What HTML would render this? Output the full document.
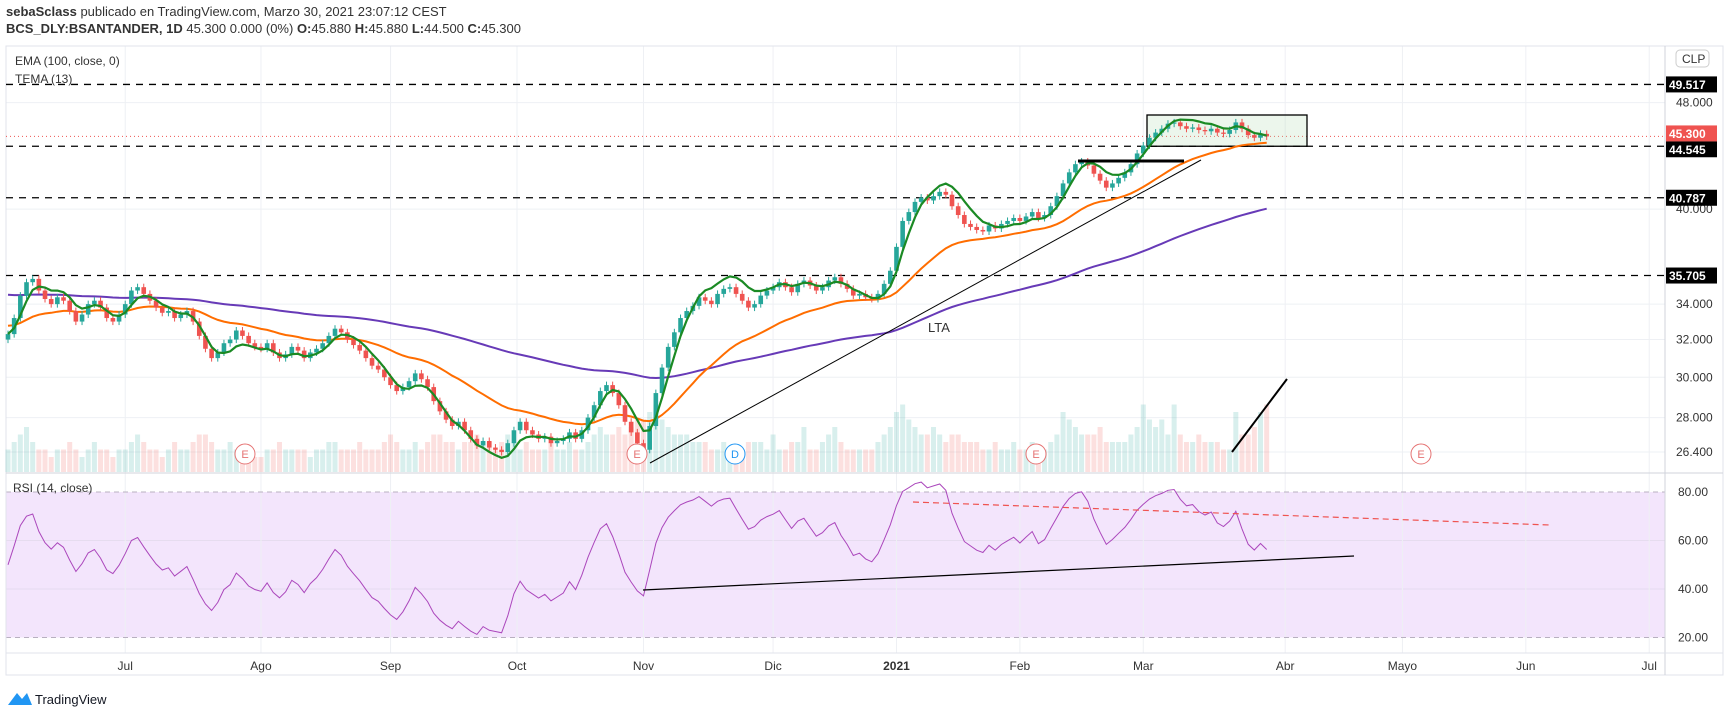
<!DOCTYPE html>
<html><head><meta charset="utf-8"><style>
body{margin:0;background:#fff;width:1729px;height:718px;overflow:hidden;font-family:"Liberation Sans",sans-serif}
svg text{font-family:"Liberation Sans",sans-serif}
</style></head><body>
<svg id="c" width="1729" height="718" xmlns="http://www.w3.org/2000/svg"></svg>
<script>
const closes=[32.3,33.2,34.5,35.3,35.5,34.8,34.3,34.0,34.4,34.2,33.6,33.0,33.4,34.0,34.2,33.8,33.2,33.0,33.4,
34.0,34.8,35.0,34.6,34.2,33.8,33.5,33.6,33.2,33.4,33.6,33.0,32.2,31.5,31.0,31.3,31.8,32.0,32.5,32.2,31.8,31.6,
31.5,31.8,31.3,31.0,31.2,31.6,31.4,31.0,31.3,31.5,31.8,32.2,32.6,32.4,32.0,31.7,31.4,31.0,30.6,30.4,30.0,
29.6,29.3,29.5,29.8,30.2,29.9,29.5,28.8,28.3,27.9,27.6,27.8,27.4,27.0,26.7,26.9,26.6,26.5,26.4,26.8,27.4,
27.8,27.4,27.2,27.0,27.1,26.8,26.9,27.0,27.3,27.0,27.4,28.0,28.6,29.3,29.6,29.2,28.6,27.8,27.3,26.8,26.5,
27.6,29.2,30.5,31.6,32.4,33.2,33.6,33.9,34.4,34.2,34.0,34.6,34.9,35.0,34.6,34.2,33.8,34.0,34.5,34.8,
35.0,35.3,35.0,34.7,35.2,35.4,35.1,34.8,35.0,35.4,35.6,35.2,34.9,34.5,34.6,34.4,34.3,34.6,35.2,36.0,
37.5,39.2,39.8,40.5,40.8,40.6,40.9,41.2,41.0,40.2,39.6,39.0,38.8,38.6,38.5,38.9,38.7,39.0,39.2,39.4,
39.2,39.5,39.8,39.4,39.6,40.2,40.9,41.8,42.6,43.2,43.4,43.1,42.5,42.0,41.5,41.8,42.2,42.6,43.2,44.0,
44.6,45.2,45.6,45.9,46.3,46.4,46.1,45.9,46.0,45.8,45.7,45.9,45.6,45.5,45.8,46.4,45.9,45.4,45.2,45.5,45.3];
const volumes=[3,4,5,6,4,3,3,2,3,3,4,3,2,3,4,3,3,2,3,
3,4,5,4,3,3,2,3,4,3,3,4,5,5,4,3,3,4,3,3,3,2,
2,3,3,4,3,3,3,3,2,3,3,4,4,3,3,3,4,3,3,3,4,
5,4,3,3,4,3,4,5,5,4,4,3,4,4,5,4,4,3,4,5,4,
3,4,3,3,3,4,3,3,4,3,3,4,5,6,5,5,6,5,6,7,7,
8,9,7,6,5,5,5,4,4,4,3,3,4,3,3,3,4,4,4,3,
5,3,3,4,4,6,3,3,4,5,6,4,3,3,3,3,3,4,5,6,
8,9,7,6,5,5,6,5,4,5,5,4,4,4,3,3,4,3,3,4,
3,3,4,3,3,4,5,8,7,6,5,5,5,6,4,4,4,4,5,6,
9,7,6,7,5,9,5,4,4,5,4,4,4,3,3,8,5,5,6,8,9];
const priceTicks=[48,40,34,32,30,28,26.4];
const levels=[49.517,44.545,40.787,35.705];
const rsiTicks=[80,60,40,20];
const months=["Jul","Ago","Sep","Oct","Nov","Dic","2021","Feb","Mar","Abr","Mayo","Jun","Jul"];
const monthIdx=[19,41,62,82.5,103,124,144,164,184,207,226,246,266];

const S=document.getElementById('c');const NS='http://www.w3.org/2000/svg';
function el(t,a,p){const e=document.createElementNS(NS,t);for(const k in a)e.setAttribute(k,a[k]);(p||S).appendChild(e);return e;}
const xa=i=>8+i*6.17;
const yp=p=>102.6+(Math.log(48)-Math.log(p))*584.4;
const yr=v=>492+(80-v)*145.5/60;
const yv=v=>472-v*7.5;
const R=1665;

// RSI bg
let e=el('rect',{x:6,y:492,width:R-6,height:145.5,fill:'#f3e5fc'});

// grid
priceTicks.forEach(p=>el('line',{x1:6,x2:R,y1:yp(p),y2:yp(p),stroke:'#eef0f4'}));
[60,40].forEach(v=>el('line',{x1:6,x2:R,y1:yr(v),y2:yr(v),stroke:'#e6dcef'}));
monthIdx.forEach(i=>{el('line',{x1:xa(i),x2:xa(i),y1:46,y2:653,stroke:'#eef0f4'});});
[80,20].forEach(v=>el('line',{x1:6,x2:R,y1:yr(v),y2:yr(v),stroke:'#b8b0c0','stroke-dasharray':'5,4'}));
// frames
el('rect',{x:6,y:46,width:1717,height:629,fill:'none',stroke:'#e0e3eb'});
el('line',{x1:R,x2:R,y1:46,y2:675,stroke:'#d0d3db'});
el('line',{x1:6,x2:1723,y1:473,y2:473,stroke:'#d0d3db'});
el('line',{x1:6,x2:1723,y1:653,y2:653,stroke:'#e0e3eb'});
// volume
closes.forEach((c,i)=>{const o=i?closes[i-1]:c;const up=c>=o;
 const r=el('rect',{x:xa(i)-2.5,y:yv(volumes[i]),width:5,height:472-yv(volumes[i]),fill:up?'rgba(38,166,154,0.18)':'rgba(239,83,80,0.18)'});
 });
// levels
levels.forEach(p=>{const l=el('line',{x1:6,x2:R,y1:yp(p),y2:yp(p),stroke:'#000','stroke-width':1.3,'stroke-dasharray':'7,6'});
 });
el('line',{x1:6,x2:R,y1:yp(45.3),y2:yp(45.3),stroke:'#ef5350','stroke-dasharray':'1,3'});
// box
e=el('rect',{x:1147,y:115,width:160,height:yp(44.545)-115,fill:'rgba(180,220,180,0.25)',stroke:'#000','stroke-width':1.3});

// indicators
function ema(arr,n,seed){const k=2/(n+1);let v=seed;return arr.map(c=>v=v+(c-v)*k);}
const e100=ema(closes,100,34.6),e26=ema(closes,26,32.8);
const t1=ema(closes,13,closes[0]),t2=ema(t1,13,t1[0]),t3=ema(t2,13,t2[0]);
const tema=t1.map((v,i)=>3*v-3*t2[i]+t3[i]);
function line(arr,col,w,name){const d=arr.map((v,i)=>(i?'L':'M')+xa(i).toFixed(1)+','+yp(v).toFixed(1)).join('');
 const p=el('path',{d,fill:'none',stroke:col,'stroke-width':w});}
line(e100,'#673ab7',2,'ema-100-line');line(e26,'#ff6d00',2,'ema-orange-line');
// candles
closes.forEach((c,i)=>{const o=i?closes[i-1]:c-0.3;const up=c>=o;const col=up?'#26a69a':'#ef5350';
 const hi=Math.max(o,c)*1.006,lo=Math.min(o,c)*0.994;
 el('line',{x1:xa(i),x2:xa(i),y1:yp(hi),y2:yp(lo),stroke:col});
 const r=el('rect',{x:xa(i)-2.3,y:yp(Math.max(o,c)),width:4.6,height:Math.max(1,yp(Math.min(o,c))-yp(Math.max(o,c))),fill:col});
 });
line(tema,'#1b8a24',2.2,'tema-line');
// drawings
[[650,463,1201,160,1],[1078,161,1184,161,3],[1232,452,1287,379,2]].forEach(a=>{const l=el('line',{x1:a[0],y1:a[1],x2:a[2],y2:a[3],stroke:'#000','stroke-width':a[4]});});
e=el('text',{x:928,y:332,'font-size':13,fill:'#333'});e.textContent='LTA';
// events
[[245,'E','#e57373'],[637,'E','#e57373'],[735,'D','#2196f3'],[1036,'E','#e57373'],[1421,'E','#e57373']].forEach(a=>{
 const g=el('g',{});
 el('circle',{cx:a[0],cy:454,r:10,fill:'#fff',stroke:a[2]},g);
 const t=el('text',{x:a[0],y:458,'font-size':11,fill:a[2],'text-anchor':'middle'},g);t.textContent=a[1];});
// RSI
const rsi=[];let ag=0.2,al=0.2;closes.forEach((c,i)=>{const d=i?c-closes[i-1]:0;ag=(ag*13+Math.max(d,0))/14;al=(al*13+Math.max(-d,0))/14;rsi.push(100-100/(1+ag/al));});
e=el('path',{d:rsi.map((v,i)=>(i?'L':'M')+xa(i).toFixed(1)+','+yr(v).toFixed(1)).join(''),fill:'none',stroke:'#ab47bc','stroke-width':1});

e=el('line',{x1:643,y1:590,x2:1354,y2:556,stroke:'#000','stroke-width':1.2});
e=el('line',{x1:913,y1:502,x2:1550,y2:525,stroke:'#ef5350','stroke-width':1.2,'stroke-dasharray':'6,4'});
// axes labels
function txt(x,y,s,o){const t=el('text',Object.assign({x,y,'font-size':12,fill:'#333'},o||{}));t.textContent=s;return t;}
priceTicks.forEach(p=>{const t=txt(1676,yp(p)+4,p.toFixed(3));});
rsiTicks.forEach(v=>{const t=txt(1678,yr(v)+4,v.toFixed(2));});
months.forEach((m,i)=>{const t=txt(xa(monthIdx[i]),670,m,{'text-anchor':'middle','font-weight':m==='2021'?'bold':'normal'});});
levels.concat([45.3]).forEach(p=>{const g=el('g',{});
 const y=p===44.545?yp(p)+3:p===45.3?yp(p)-3:yp(p);
 el('rect',{x:1666,y:y-8,width:51,height:16,fill:p===45.3?'#ef5350':'#000'},g);
 const t=el('text',{x:1669,y:y+4.5,'font-size':12,'font-weight':'bold',fill:'#fff'},g);t.textContent=p.toFixed(3);});
e=el('rect',{x:1676,y:50,width:33,height:17,rx:4,fill:'#fff',stroke:'#ccc'});
txt(1682,63,'CLP');
// header
let t=txt(6,16,'',{'font-size':13});t.innerHTML='<tspan font-weight="bold">sebaSclass</tspan> publicado en TradingView.com, Marzo 30, 2021 23:07:12 CEST';

t=txt(6,33,'',{'font-size':13});t.innerHTML='<tspan font-weight="bold">BCS_DLY:BSANTANDER, 1D</tspan> 45.300 0.000 (0%) <tspan font-weight="bold">O:</tspan>45.880 <tspan font-weight="bold">H:</tspan>45.880 <tspan font-weight="bold">L:</tspan>44.500 <tspan font-weight="bold">C:</tspan>45.300';

t=txt(15,65,'EMA (100, close, 0)');
t=txt(15,83,'TEMA (13)');
t=txt(13,492,'RSI (14, close)');
e=el('path',{d:'M8,705 L17,693 L22,699 L27,693 L32,705 Z',fill:'#2196f3'});
txt(35,704,'TradingView',{'font-size':13,fill:'#131722'});
</script></body></html>
